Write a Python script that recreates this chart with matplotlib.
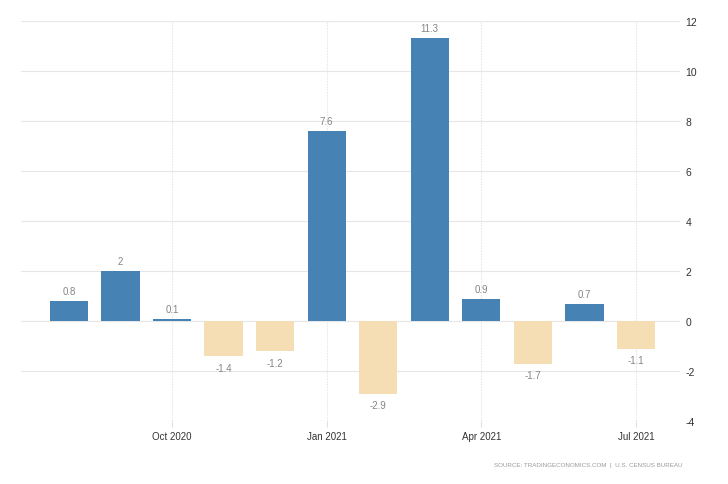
import numpy as np
from matplotlib import pyplot as plt

months = ["Aug 2020", "Sep 2020", "Oct 2020", "Nov 2020", "Dec 2020", "Jan 2021",
          "Feb 2021", "Mar 2021", "Apr 2021", "May 2021", "Jun 2021", "Jul 2021"]
values = [0.8, 2, 0.1, -1.4, -1.2, 7.6, -2.9, 11.3, 0.9, -1.7, 0.7, -1.1]
tick_labels = ["Oct 2020", "Jan 2021", "Apr 2021", "Jul 2021"]
y_ticks = [-4, -2, 0, 2, 4, 6, 8, 10, 12]

plt.rcParams['font.family'] = ['Liberation Sans', 'DejaVu Sans']

fig = plt.figure(figsize=(7.28, 4.85), dpi=100)
ax = fig.add_axes([0.0288, 0.129, 0.905, 0.826])

x = np.arange(len(values))
colors = ["#4682b4" if v >= 0 else "#f5deb3" for v in values]
ax.bar(x, values, width=0.74, color=colors, zorder=3)

# value labels above / below each bar
for xi, v in zip(x, values):
    label = f"{v:g}"
    if v >= 0:
        ax.annotate(label, (xi, v), xytext=(0, 3.5), textcoords="offset points",
                    ha="center", va="bottom", fontsize=7, color="#858585")
    else:
        ax.annotate(label, (xi, v), xytext=(0, -4.5), textcoords="offset points",
                    ha="center", va="top", fontsize=7, color="#858585")

ax.set_xlim(-0.93, 11.85)
ax.set_ylim(-4, 12)
ax.set_yticks(y_ticks)
ax.set_yticklabels([str(t) for t in y_ticks])
ax.set_xticks([months.index(m) for m in tick_labels])
ax.set_xticklabels(tick_labels)

ax.yaxis.tick_right()
ax.tick_params(axis="y", length=0, pad=4, labelsize=7.5, labelcolor="#333333")
ax.tick_params(axis="x", length=4, color="#e0e0e0", pad=3, labelsize=7, labelcolor="#333333")

ax.grid(axis="y", color="#e6e6e6", linewidth=0.8, zorder=0)
ax.grid(axis="x", color="#e8e8e8", linewidth=0.8, linestyle=(0, (1.5, 1)), zorder=0)
for s in ax.spines.values():
    s.set_visible(False)

fig.text(0.938, 0.04, "SOURCE: TRADINGECONOMICS.COM  |  U.S. CENSUS BUREAU",
         ha="right", va="center", fontsize=4.5, color="#9a9a9a")

fig.savefig("out.png", dpi=100)
